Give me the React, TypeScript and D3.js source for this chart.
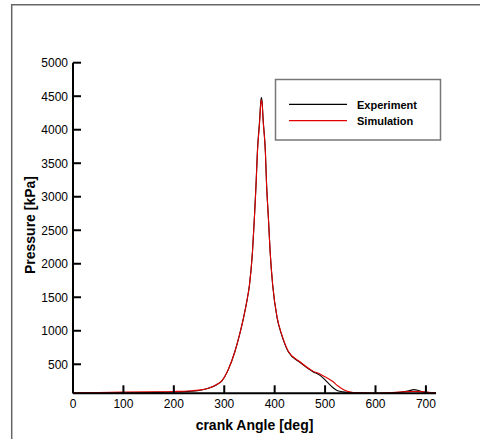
import React from "react";
import * as d3 from "d3";

const angles = [0, 50, 100, 150, 200, 230, 250, 270, 285, 295, 308, 321, 330, 338, 345, 350, 356, 359.7, 363, 365.7, 370.4, 372.2, 373.6, 375.2, 377, 381.6, 384, 387.6, 391, 396, 405, 414, 427, 450, 476, 490, 497, 505, 516, 525, 536, 546, 556, 580, 600, 620, 640, 655, 668, 676, 685, 695, 710, 720];

const experiment = [70, 72, 76, 80, 86, 96, 110, 145, 195, 250, 420, 687, 930, 1185, 1450, 1682, 2179, 2678, 3175, 3672, 4170, 4400, 4480, 4410, 4170, 3672, 3175, 2678, 2179, 1682, 1185, 935, 687, 530, 390, 335, 290, 230, 150, 105, 88, 82, 78, 72, 67, 70, 78, 90, 108, 122, 110, 86, 76, 72];

const simulation = [76, 80, 84, 88, 94, 102, 114, 147, 197, 252, 422, 687, 930, 1185, 1450, 1682, 2179, 2670, 3160, 3650, 4140, 4370, 4445, 4380, 4150, 3660, 3170, 2678, 2185, 1690, 1195, 945, 695, 538, 398, 355, 324, 292, 239, 180, 125, 92, 80, 74, 70, 74, 82, 88, 92, 94, 92, 88, 80, 74];

const xTicks = [0, 100, 200, 300, 400, 500, 600, 700];
const yTicks = [500, 1000, 1500, 2000, 2500, 3000, 3500, 4000, 4500, 5000];

const seriesNames = ["Experiment", "Simulation"];
const seriesColors = ["#000000", "#e00000"];

const W = 480;
const H = 439;
const left = 73;
const right = 436;
const top = 62.7;
const bottom = 393.3;

export default function App() {
  const x = d3.scaleLinear().domain([0, 720]).range([left, right]);
  const y = d3.scaleLinear().domain([67, 5000]).range([bottom, top]);
  const line = d3
    .line<number>()
    .x((_, i) => x(angles[i]))
    .y((d) => y(d))
    .curve(d3.curveMonotoneX);
  const font = "'Liberation Sans', Arial, sans-serif";
  const series = [experiment, simulation];
  return (
    <svg
      width={W}
      height={H}
      style={{ position: "absolute", left: 0, top: 0, background: "#fff" }}
      fontFamily={font}
    >
      <rect x={0} y={0} width={W} height={H} fill="#fff" />
      {/* frame */}
      <line x1={11.7} x2={W} y1={4.7} y2={4.7} stroke="#666" strokeWidth={1.5} />
      <line x1={11.7} x2={11.7} y1={4} y2={H} stroke="#666" strokeWidth={1.5} />

      {/* series */}
      {series.map((s, i) => (
        <path key={i} d={line(s) || ""} fill="none" stroke={seriesColors[i]} strokeWidth={1.1} />
      ))}

      {/* axes */}
      <line x1={left} x2={left} y1={top} y2={bottom} stroke="#000" strokeWidth={2} />
      <line x1={left} x2={right} y1={bottom} y2={bottom} stroke="#000" strokeWidth={2} />
      {yTicks.map((t) => (
        <g key={t}>
          <line x1={left} x2={left + 8} y1={y(t)} y2={y(t)} stroke="#000" strokeWidth={2} />
          <text x={left - 5} y={y(t)} dy="0.36em" textAnchor="end" fontSize={12} fill="#000">
            {t}
          </text>
        </g>
      ))}
      {xTicks.map((t) => (
        <g key={t}>
          <line x1={x(t)} x2={x(t)} y1={bottom} y2={bottom - 8} stroke="#000" strokeWidth={2} />
          <text x={x(t)} y={407.5} textAnchor="middle" fontSize={12} fill="#000">
            {t}
          </text>
        </g>
      ))}
      <text x={(left + right) / 2} y={430} textAnchor="middle" fontSize={14} fontWeight="bold">
        crank Angle [deg]
      </text>
      <text
        transform={`translate(35,225) rotate(-90)`}
        textAnchor="middle"
        fontSize={14}
        fontWeight="bold"
      >
        Pressure [kPa]
      </text>

      {/* legend */}
      <rect x={275.5} y={79.5} width={165} height={60.5} fill="#fff" stroke="#777" strokeWidth={1.5} />
      {seriesNames.map((n, i) => (
        <g key={n}>
          <line x1={289} x2={347} y1={104.3 + i * 16.4} y2={104.3 + i * 16.4} stroke={seriesColors[i]} strokeWidth={1.2} />
          <text x={357} y={108.5 + i * 16.4} fontSize={11} fontWeight="bold">
            {n}
          </text>
        </g>
      ))}
    </svg>
  );
}
